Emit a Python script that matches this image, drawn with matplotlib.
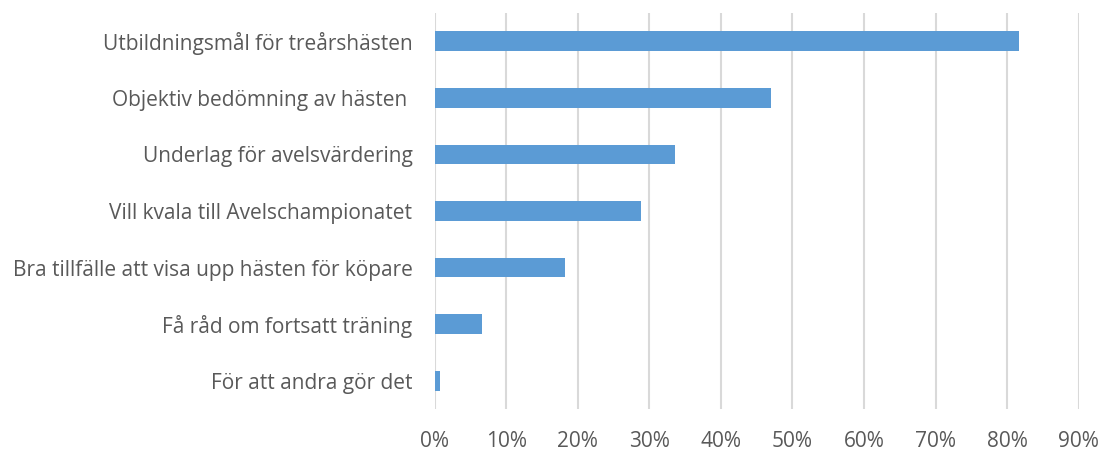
import numpy as np
import matplotlib
matplotlib.use('Agg')
import matplotlib.pyplot as plt
import matplotlib.ticker as ticker

# Data (top to bottom as shown)
labels = ['Utbildningsmål för treårshästen',
          'Objektiv bedömning av hästen ',
          'Underlag för avelsvärdering',
          'Vill kvala till Avelschampionatet',
          'Bra tillfälle att visa upp hästen för köpare',
          'Få råd om fortsatt träning',
          'För att andra gör det']
values = [0.816, 0.470, 0.336, 0.288, 0.182, 0.066, 0.008]
xticks = [0.0, 0.1, 0.2, 0.3, 0.4, 0.5, 0.6, 0.7, 0.8, 0.9]

plt.rcParams['font.family'] = ['Open Sans', 'DejaVu Sans']

fig = plt.figure(figsize=(11.03, 4.5), dpi=100)
ax = fig.add_axes([434.7/1103, 1 - 409/450, (1078.7-434.7)/1103, (409-13)/450])

y = np.arange(len(labels))
ax.barh(y, values, height=0.35, color='#5B9BD5', zorder=3)

ax.set_xlim(0, 0.9)
ax.set_ylim(len(labels) - 0.5, -0.5)
ax.set_yticks(y)
ax.set_yticklabels(labels)
ax.set_xticks(xticks)
ax.xaxis.set_major_formatter(ticker.PercentFormatter(1.0, decimals=0))

ax.grid(axis='x', color='#D9D9D9', linewidth=1.5, zorder=0)
for s in ax.spines.values():
    s.set_visible(False)
ax.tick_params(axis='both', length=0, labelsize=15, colors='#595959')
ax.tick_params(axis='y', pad=16)
ax.tick_params(axis='x', pad=16)

fig.savefig('out.png', dpi=100)
